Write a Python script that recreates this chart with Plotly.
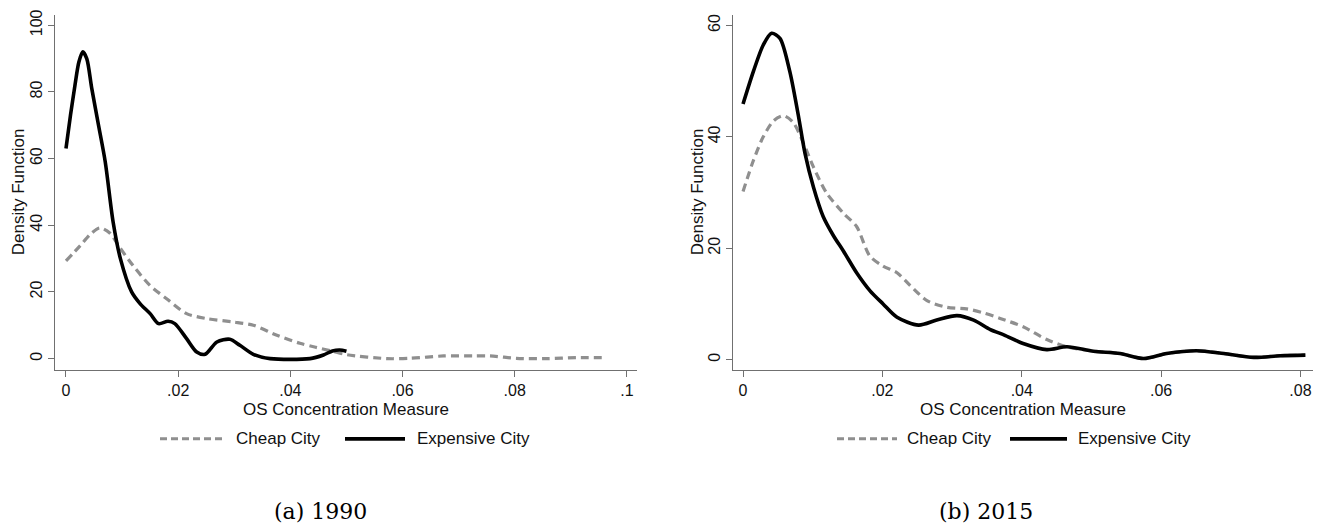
import plotly.graph_objects as go

W, H = 1335, 529

# ---------------- data ----------------
# Panel (a) 1990
exp90_x = [0.0, 0.0008, 0.0016, 0.0023, 0.003, 0.0037, 0.0046, 0.0058, 0.007, 0.0084, 0.0097, 0.0117,
           0.0132, 0.015, 0.0165, 0.0182, 0.0194, 0.0215, 0.0233, 0.0248, 0.0269, 0.0292, 0.031,
           0.0334, 0.0364, 0.0435, 0.0459, 0.0475, 0.0488, 0.05]
exp90_y = [63, 73, 82, 89, 92, 90, 81, 70, 59, 41, 30, 20,
           16.5, 13.5, 10.5, 11.2, 10.5, 6, 2, 1.3, 5, 5.8, 4,
           1.3, 0, 0, 1.1, 2.3, 2.6, 2.2]
cheap90_x = [0.0, 0.0025, 0.0043, 0.006, 0.0078, 0.0096, 0.012, 0.015, 0.018, 0.0215, 0.0251, 0.0298,
             0.0334, 0.0376, 0.0417, 0.0445, 0.0475, 0.05, 0.0572, 0.0613, 0.0673, 0.0726, 0.0756,
             0.0803, 0.0857, 0.091, 0.0958]
cheap90_y = [29.3, 33.8, 37.2, 39.2, 37.7, 33.3, 27.8, 21.9, 17.9, 13.5, 12, 11,
             10, 7, 4.6, 3.4, 2.2, 1.2, 0, 0.1, 0.8, 0.8, 0.8,
             0.1, 0, 0.3, 0.3]

# Panel (b) 2015
exp15_x = [0.0, 0.0015, 0.0029, 0.0041, 0.0053, 0.0067, 0.0079, 0.0089, 0.0101, 0.0115, 0.013, 0.0144,
           0.0163, 0.0182, 0.0201, 0.0221, 0.0252, 0.0278, 0.0307, 0.0331, 0.0355, 0.0375, 0.0402,
           0.0436, 0.0465, 0.0503, 0.0541, 0.0575, 0.0608, 0.0651, 0.069, 0.0733, 0.0771, 0.0807]
exp15_y = [45.9, 51.8, 56.5, 58.6, 57.7, 51.8, 44.1, 37, 31, 25.7, 22.2, 19.5,
           15.6, 12.4, 10, 7.6, 6.2, 7.1, 7.9, 7.1, 5.4, 4.4, 2.9,
           1.8, 2.3, 1.5, 1.1, 0.2, 1.1, 1.6, 1.1, 0.4, 0.7, 0.8]
cheap15_x = [0.0, 0.0015, 0.0029, 0.0044, 0.0058, 0.0072, 0.0087, 0.0101, 0.012, 0.0144, 0.0163, 0.0182,
             0.0201, 0.0221, 0.024, 0.0264, 0.0292, 0.0321, 0.0345, 0.0369, 0.0402, 0.0436, 0.0465,
             0.0503, 0.0541, 0.0575, 0.0608, 0.0651, 0.069, 0.0733, 0.0771, 0.0807]
cheap15_y = [30.2, 35.8, 40, 42.9, 43.8, 42.6, 38.8, 34.6, 29.9, 26.3, 23.9, 18.6,
             16.8, 15.6, 13.3, 10.6, 9.4, 9.1, 8.4, 7.4, 5.9, 3.6, 2.3,
             1.5, 1.1, 0.2, 1.1, 1.6, 1.1, 0.4, 0.7, 0.8]

x_ticks_a = [0, 0.02, 0.04, 0.06, 0.08, 0.1]
x_labels_a = ["0", ".02", ".04", ".06", ".08", ".1"]
y_ticks_a = [0, 20, 40, 60, 80, 100]
x_ticks_b = [0, 0.02, 0.04, 0.06, 0.08]
x_labels_b = ["0", ".02", ".04", ".06", ".08"]
y_ticks_b = [0, 20, 40, 60]

series_names = ["Cheap City", "Expensive City"]
captions = ["(a) 1990", "(b) 2015"]
x_title = "OS Concentration Measure"
y_title = "Density Function"

# ---------------- styling ----------------
GREY = "#8f8f8f"
BLACK = "#000000"
AXC = "#707070"
FONT = "Liberation Sans, Arial, sans-serif"

def px_x(p):
    return p / W

def px_y(p):
    return 1 - p / H

fig = go.Figure()

def add_pair(cx, cy, ex, ey, xa, ya):
    fig.add_trace(go.Scatter(x=cx, y=cy, mode="lines", name=series_names[0], xaxis=xa, yaxis=ya,
                             line=dict(color=GREY, width=3.2, dash="8px,5px", shape="spline", smoothing=0.8),
                             showlegend=False, hoverinfo="skip"))
    fig.add_trace(go.Scatter(x=ex, y=ey, mode="lines", name=series_names[1], xaxis=xa, yaxis=ya,
                             line=dict(color=BLACK, width=3.6, shape="spline", smoothing=0.8),
                             showlegend=False, hoverinfo="skip"))

add_pair(cheap90_x, cheap90_y, exp90_x, exp90_y, "x", "y")
add_pair(cheap15_x, cheap15_y, exp15_x, exp15_y, "x2", "y2")

ydom = [px_y(368), px_y(10)]

common_x = dict(showline=True, linecolor=AXC, linewidth=1.2, ticks="outside", ticklen=6, tickcolor=AXC,
                tickwidth=1.2, showgrid=False, zeroline=False, tickfont=dict(family=FONT, size=16, color="#111"))
common_y = dict(showline=True, linecolor=AXC, linewidth=1.2, ticks="outside", ticklen=6, tickcolor=AXC,
                tickwidth=1.2, showgrid=False, zeroline=False, tickangle=-90,
                tickfont=dict(family=FONT, size=16, color="#111"))

fig.update_layout(
    width=W, height=H, margin=dict(l=0, r=0, t=0, b=0),
    paper_bgcolor="white", plot_bgcolor="white",
    xaxis=dict(domain=[px_x(55), px_x(637)], range=[-0.00196, 0.1018], anchor="y",
               tickvals=x_ticks_a, ticktext=x_labels_a, **common_x),
    yaxis=dict(domain=ydom, range=[-3.27, 103.1], anchor="x", tickvals=y_ticks_a, **common_y),
    xaxis2=dict(domain=[px_x(733), px_x(1313)], range=[-0.00144, 0.0818], anchor="y2",
                tickvals=x_ticks_b, ticktext=x_labels_b, **common_x),
    yaxis2=dict(domain=ydom, range=[-1.78, 61.9], anchor="x2", tickvals=y_ticks_b, **common_y),
    showlegend=False,
)

annots = []
shapes = []

def panel_text(ytitle_x, xtitle_cx, cap_cx, dash_x0, dash_x1, txt1_x, sol_x0, sol_x1, txt2_x, cap):
    annots.append(dict(text=y_title, x=px_x(ytitle_x), y=px_y(189), xref="paper", yref="paper",
                       textangle=-90, showarrow=False, xanchor="center", yanchor="middle",
                       font=dict(family=FONT, size=17, color="#111")))
    annots.append(dict(text=x_title, x=px_x(xtitle_cx), y=px_y(408), xref="paper", yref="paper",
                       showarrow=False, xanchor="center", yanchor="middle",
                       font=dict(family=FONT, size=17, color="#111")))
    ly = px_y(438)
    shapes.append(dict(type="line", xref="paper", yref="paper", x0=px_x(dash_x0), x1=px_x(dash_x1),
                       y0=ly, y1=ly, line=dict(color=GREY, width=3, dash="7px,4px")))
    annots.append(dict(text=series_names[0], x=px_x(txt1_x), y=ly, xref="paper", yref="paper",
                       showarrow=False, xanchor="left", yanchor="middle",
                       font=dict(family=FONT, size=17, color="#111")))
    shapes.append(dict(type="line", xref="paper", yref="paper", x0=px_x(sol_x0), x1=px_x(sol_x1),
                       y0=ly, y1=ly, line=dict(color=BLACK, width=3.6)))
    annots.append(dict(text=series_names[1], x=px_x(txt2_x), y=ly, xref="paper", yref="paper",
                       showarrow=False, xanchor="left", yanchor="middle",
                       font=dict(family=FONT, size=17, color="#111")))
    annots.append(dict(text=cap, x=px_x(cap_cx), y=px_y(511), xref="paper", yref="paper",
                       showarrow=False, xanchor="center", yanchor="middle",
                       font=dict(family="DejaVu Serif, serif", size=22, color="#000")))

panel_text(18, 346, 320, 160, 222, 234, 345, 405, 415, captions[0])
panel_text(697, 1023, 986, 837, 897, 905, 1010, 1067, 1076, captions[1])

fig.update_layout(annotations=annots, shapes=shapes)

fig.write_html("out.html")
